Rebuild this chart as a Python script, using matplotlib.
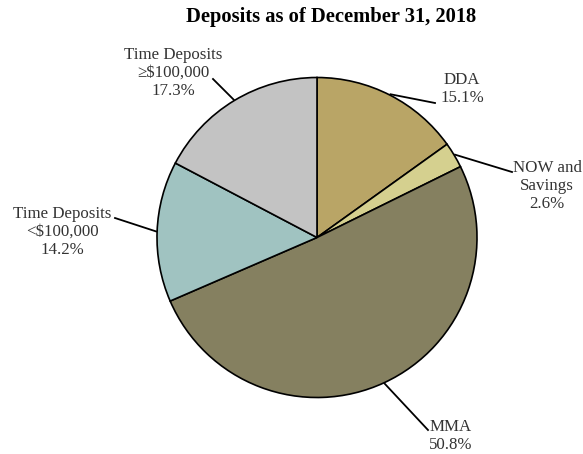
import numpy as np
import matplotlib.pyplot as plt

plt.rcParams['font.family'] = ['Liberation Serif', 'DejaVu Serif']

categories = ["DDA", "NOW and\nSavings", "MMA", "Time Deposits\n<$100,000", "Time Deposits\n≥$100,000"]
shares = [15.1, 2.6, 50.8, 14.2, 17.3]
colors = ["#b9a566", "#d5d08f", "#858060", "#a0c3c1", "#c3c3c3"]

# label end of each leader line and text centre, in pixels from the top-left
label_end = [(435, 103), (512, 172), (428, 430), (115, 218), (213, 79)]
label_pos = [(462, 89), (547, 186), (451, 436), (62, 232), (173, 73)]

W, H = 583, 454
fig = plt.figure(figsize=(W / 100, H / 100), dpi=100)
ax = fig.add_axes([0, 0, 1, 1])

cx, cy, r = 317, H - 237.5, 160
wedges, _ = ax.pie(shares, colors=colors, startangle=90, counterclock=False,
                   center=(cx, cy), radius=r,
                   wedgeprops=dict(edgecolor="black", linewidth=1.2))

for w, name, val, end, pos in zip(wedges, categories, shares, label_end, label_pos):
    mid = np.deg2rad((w.theta1 + w.theta2) / 2)
    edge = (cx + (r + 1) * np.cos(mid), cy + (r + 1) * np.sin(mid))
    ax.plot([edge[0], end[0]], [edge[1], H - end[1]], color="black", lw=1.3)
    ax.text(pos[0], H - pos[1], f"{name}\n{val:.1f}%", ha="center", va="center",
            multialignment="center", fontsize=12.2, color="#333333", linespacing=1.2)

ax.text(331, H - 17, "Deposits as of December 31, 2018", ha="center", va="center",
        fontsize=14.8, fontweight="bold", color="black")

ax.set_xlim(0, W)
ax.set_ylim(0, H)
ax.set_aspect("equal")
ax.axis("off")

fig.savefig("out.png", dpi=100, facecolor="white")
